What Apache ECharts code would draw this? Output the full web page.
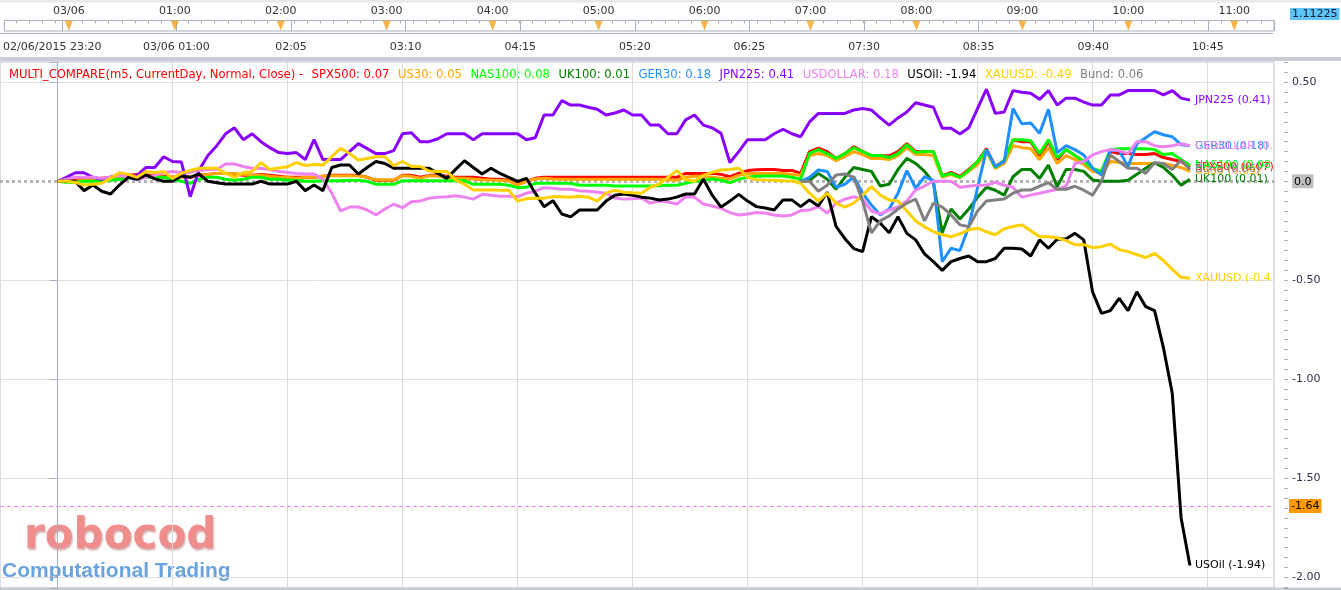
<!DOCTYPE html>
<html>
<head>
<meta charset="utf-8">
<script src="https://cdn.jsdelivr.net/npm/echarts@6/dist/echarts.min.js"></script>
<style>html,body{margin:0;padding:0;background:#fff;}#c{width:1341px;height:590px;}</style>
</head>
<body>
<div id="c"></div>
<script>
// ---------------- DATA ----------------
const seriesNames = ['SPX500','US30','NAS100','UK100','GER30','JPN225','USDOLLAR','USOil','XAUUSD','Bund'];
const lastValues  = [0.07, 0.05, 0.08, 0.01, 0.18, 0.41, 0.18, -1.94, -0.49, 0.06];
const hourLabels  = ['03/06','01:00','02:00','03:00','04:00','05:00','06:00','07:00','08:00','09:00','10:00','11:00'];
const navLabels   = ['02/06/2015 23:20','03/06 01:00','02:05','03:10','04:15','05:20','06:25','07:30','08:35','09:40','10:45'];
const euStart = 84;       // bar index where UK100 / GER30 / Bund begin
const priceLine = -1.64;
const priceTag = '1.11225';

const spx500 = [0,0,0.005,0.01,0.01,0.015,0.02,0.02,0.03,0.035,
 0.03,0.03,0.025,0.02,0.025,0.02,0.03,0.035,0.04,0.04,
 0.035,0.03,0.03,0.035,0.03,0.025,0.02,0.02,0.02,0.02,
 0.025,0.03,0.03,0.03,0.03,0.02,0.005,0.005,0.005,0.03,
 0.03,0.02,0.03,0.03,0.025,0.02,0.02,0.02,0.015,0.01,
 0.01,0.005,-0.015,0,0.015,0.02,0.02,0.02,0.02,0.02,
 0.02,0.02,0.02,0.02,0.02,0.02,0.02,0.02,0.02,0.02,
 0.02,0.04,0.04,0.04,0.04,0.035,0.023,0.04,0.054,0.058,
 0.06,0.06,0.055,0.055,0.04,0.15,0.167,0.15,0.116,0.14,
 0.175,0.15,0.13,0.13,0.128,0.15,0.19,0.15,0.15,0.15,
 0.027,0.045,0.025,0.06,0.1,0.165,0.075,0.105,0.21,0.2,
 0.2,0.13,0.2,0.11,0.16,0.13,0.1,0.06,0.05,0.15,
 0.14,0.14,0.135,0.135,0.14,0.12,0.11,0.1,0.07];

const us30 = [0,0,0,0.005,0.005,0.01,0.01,0.015,0.02,0.025,
 0.025,0.025,0.02,0.015,0.02,0.02,0.03,0.035,0.04,0.04,
 0.04,0.035,0.03,0.03,0.025,0.02,0.02,0.015,0.02,0.02,
 0.025,0.028,0.028,0.028,0.028,0.02,0.007,0.007,0.007,0.028,
 0.025,0.015,0.028,0.025,0.02,0.015,0.015,0.012,0.008,0.006,
 0.005,0.002,-0.019,0,0.012,0.015,0.012,0.01,0.01,0.01,
 0.01,0.01,0.01,0.01,0.01,0.01,0.01,0.01,0.01,0.008,
 0.005,0.02,0.025,0.025,0.02,0.015,0.013,0.03,0.04,0.04,
 0.04,0.04,0.04,0.035,0.03,0.13,0.14,0.13,0.104,0.125,
 0.15,0.135,0.115,0.115,0.11,0.13,0.17,0.135,0.135,0.13,
 0.02,0.035,0.018,0.05,0.085,0.15,0.065,0.09,0.18,0.17,
 0.165,0.11,0.17,0.09,0.13,0.11,0.085,0.05,0.04,0.1,
 0.095,0.09,0.09,0.09,0.09,0.09,0.08,0.07,0.05];

const nas100 = [0,-0.005,-0.005,0,0,0,0.005,0.01,0.015,0.02,
 0.02,0.02,0.02,0.01,0,-0.01,0.01,0.02,0.02,0.01,
 0.005,0.01,0.02,0.02,0.01,0.01,0.005,0.005,0,0,
 0.003,0.003,0.003,0.005,0.005,0,-0.015,-0.015,-0.015,0.003,
 0.003,0.003,0.003,0.003,0.003,0.003,0.003,-0.015,-0.015,-0.015,
 -0.015,-0.02,-0.032,-0.03,-0.01,-0.01,-0.01,-0.01,-0.01,-0.02,
 -0.02,-0.02,-0.02,-0.024,-0.024,-0.024,-0.024,-0.024,-0.022,-0.02,
 -0.02,-0.01,0,0.005,0.012,0.005,-0.007,0.01,0.02,0.025,
 0.027,0.027,0.027,0.02,0.01,0.141,0.16,0.14,0.116,0.14,
 0.17,0.15,0.13,0.13,0.12,0.14,0.185,0.145,0.15,0.15,
 0.027,0.04,0.02,0.055,0.1,0.16,0.07,0.105,0.21,0.21,
 0.205,0.14,0.21,0.12,0.16,0.13,0.1,0.065,0.05,0.16,
 0.165,0.165,0.165,0.165,0.16,0.135,0.14,0.11,0.08];

const uk100 = [0,0.005,0.04,0.01,-0.04,0.02,0.07,0.06,0.05,-0.024,
 -0.015,0.06,0.116,0.09,0.05,-0.005,-0.26,-0.14,-0.19,-0.14,
 -0.08,-0.03,-0.045,-0.07,0.023,0.06,0.06,0.015,0.082,-0.027,
 0.06,0.06,0.05,0.007,0,0,0,0.005,0.035,0.066,
 0.094,0.07,0.03,-0.02,0.01];

const ger30 = [0,0.02,0.057,0.05,-0.03,-0.015,0.023,-0.06,-0.12,-0.17,
 -0.14,-0.06,0.054,-0.035,0.023,0.005,-0.406,-0.338,-0.35,-0.23,
 -0.03,0.16,0.074,0.1,0.368,0.29,0.295,0.242,0.364,0.145,
 0.18,0.16,0.133,0.066,0.032,0.158,0.155,0.074,0.19,0.22,
 0.25,0.235,0.225,0.185,0.18];

const jpn225 = [0,0.02,0.043,0.043,0.02,0.01,0.02,0.037,0.02,0.03,
 0.07,0.07,0.124,0.1,0.097,-0.078,0.057,0.13,0.18,0.24,
 0.27,0.21,0.24,0.2,0.17,0.145,0.14,0.145,0.11,0.21,
 0.11,0.11,0.11,0.15,0.19,0.165,0.14,0.14,0.155,0.24,
 0.245,0.2,0.2,0.215,0.24,0.24,0.24,0.21,0.24,0.24,
 0.24,0.24,0.24,0.21,0.22,0.335,0.335,0.407,0.385,0.385,
 0.374,0.364,0.335,0.345,0.36,0.335,0.335,0.284,0.284,0.24,
 0.24,0.31,0.335,0.284,0.27,0.242,0.094,0.15,0.21,0.21,
 0.21,0.24,0.263,0.24,0.225,0.3,0.343,0.343,0.343,0.343,
 0.36,0.368,0.36,0.32,0.284,0.32,0.35,0.397,0.385,0.374,
 0.268,0.268,0.239,0.27,0.368,0.465,0.343,0.35,0.458,0.45,
 0.445,0.414,0.458,0.385,0.42,0.42,0.4,0.385,0.385,0.436,
 0.436,0.458,0.458,0.458,0.458,0.436,0.458,0.42,0.41];

const usdollar = [0,0.01,0.02,0.02,0.02,0.015,0.02,0.03,0.02,0.01,
 0.02,0.03,0.045,0.05,0.045,0.045,0.055,0.06,0.06,0.087,
 0.087,0.075,0.066,0.065,0.06,0.05,0.045,0.04,0.037,0.037,
 0.01,-0.06,-0.15,-0.13,-0.13,-0.145,-0.17,-0.14,-0.116,-0.133,
 -0.103,-0.1,-0.085,-0.08,-0.078,-0.073,-0.08,-0.09,-0.066,-0.07,
 -0.075,-0.075,-0.078,-0.06,-0.05,-0.032,-0.035,-0.04,-0.04,-0.048,
 -0.05,-0.055,-0.06,-0.085,-0.09,-0.088,-0.085,-0.11,-0.1,-0.105,
 -0.115,-0.078,-0.08,-0.115,-0.125,-0.136,-0.158,-0.17,-0.165,-0.158,
 -0.16,-0.17,-0.175,-0.17,-0.148,-0.145,-0.128,-0.16,-0.11,-0.09,
 -0.078,-0.09,-0.15,-0.165,-0.145,-0.13,-0.1,-0.044,-0.024,0,
 0,0,-0.03,-0.025,-0.02,-0.02,-0.005,-0.02,-0.03,-0.08,
 -0.07,-0.06,-0.05,-0.04,-0.024,0.09,0.1,0.133,0.15,0.16,
 0.155,0.14,0.2,0.2,0.18,0.175,0.18,0.19,0.18];

const usoil = [0,0,0,-0.047,-0.019,-0.05,-0.064,-0.019,0.02,0.01,
 0.032,0.012,0,0,0.027,0.02,0.037,0,-0.007,-0.014,
 -0.014,-0.014,-0.014,0,-0.014,-0.014,-0.014,0,-0.047,-0.019,
 -0.047,0.07,0.082,0.082,0.037,0.07,0.1,0.09,0.066,0.066,
 0.066,0.066,0.066,0.04,0.015,0.06,0.104,0.07,0.037,0.066,
 0.04,0.02,0,0.015,-0.06,-0.128,-0.098,-0.165,-0.18,-0.145,
 -0.145,-0.145,-0.1,-0.07,-0.064,-0.07,-0.08,-0.085,-0.094,-0.09,
 -0.08,-0.064,-0.064,0.012,-0.07,-0.13,-0.1,-0.066,-0.1,-0.128,
 -0.135,-0.145,-0.094,-0.094,-0.128,-0.094,-0.125,-0.055,-0.228,-0.29,
 -0.34,-0.355,-0.179,-0.212,-0.26,-0.179,-0.263,-0.296,-0.367,-0.406,
 -0.45,-0.406,-0.39,-0.377,-0.406,-0.406,-0.39,-0.338,-0.338,-0.342,
 -0.377,-0.296,-0.338,-0.293,-0.29,-0.263,-0.296,-0.56,-0.667,-0.653,
 -0.591,-0.653,-0.558,-0.633,-0.653,-0.84,-1.07,-1.70,-1.94];

const xauusd = [0,0,-0.005,-0.019,-0.015,-0.01,0.015,0.043,0.035,0.02,
 0.05,0.045,0.05,0.015,0.04,0.055,0.066,0.066,0.066,0.04,
 0.02,0.043,0.05,0.094,0.06,0.067,0.074,0.094,0.08,0.085,
 0.082,0.125,0.167,0.14,0.108,0.115,0.124,0.124,0.079,0.1,
 0.075,0.075,0.052,0.05,0.05,0.007,-0.015,-0.044,-0.044,-0.044,
 -0.045,-0.045,-0.1,-0.088,-0.086,-0.085,-0.078,-0.078,-0.08,-0.075,
 -0.08,-0.1,-0.06,-0.045,-0.055,-0.058,-0.06,-0.03,-0.015,0.02,
 0.054,0.01,0,0.03,0.045,0.057,0.06,0.066,0.02,0.008,
 0.006,0.005,0.003,0.002,-0.01,-0.06,-0.1,-0.06,-0.11,-0.13,
 -0.11,-0.07,-0.027,-0.07,-0.094,-0.1,-0.15,-0.2,-0.23,-0.255,
 -0.27,-0.28,-0.265,-0.245,-0.237,-0.255,-0.27,-0.24,-0.228,-0.22,
 -0.25,-0.28,-0.28,-0.285,-0.3,-0.32,-0.32,-0.335,-0.33,-0.317,
 -0.345,-0.355,-0.37,-0.385,-0.364,-0.4,-0.445,-0.485,-0.49];

const bund = [0,0,-0.05,-0.02,0.032,0.037,0.02,-0.1,-0.26,-0.2,
 -0.175,-0.14,-0.11,-0.09,-0.2,-0.11,-0.13,-0.17,-0.22,-0.229,
 -0.15,-0.1,-0.094,-0.09,-0.06,-0.044,-0.044,-0.025,-0.007,-0.04,
 -0.04,-0.025,-0.045,-0.07,0,0.133,0.1,0.066,0.066,0.04,
 0.094,0.09,0.06,0.108,0.06];

// ---------------- STYLE ----------------
const seriesColors = ['#ff0000','#ffa500','#00ff00','#008000','#1e90ff','#8a00ff','#ee82ee','#000000','#ffd000','#808080'];
const FONT = 'DejaVu Sans';
const seriesValues = [spx500, us30, nas100, uk100, ger30, jpn225, usdollar, usoil, xauusd, bund];
const seriesStart  = [0, 0, 0, euStart, euStart, 0, 0, 0, 0, euStart];

// axis extents (panel spans y 62..588, x 0..1274)
const X_MIN = -6.5, X_MAX = 137.5, X_STEP = 13;
const Y_MIN = -2.054, Y_MAX = 0.6025;
const H_MIN = -0.6215, H_MAX = 11.375;

const chart = echarts.init(document.getElementById('c'), null, {renderer: 'canvas'});

const lineSeries = seriesNames.map((name, s) => {
  const ser = {
    name: name, type: 'line', xAxisIndex: 0, yAxisIndex: 0,
    data: seriesValues[s].map((v, k) => [seriesStart[s] + k, v]),
    showSymbol: false, symbol: 'none', silent: true,
    lineStyle: {color: seriesColors[s], width: 3},
    itemStyle: {color: seriesColors[s]},
    z: 10 + s,
    endLabel: {
      show: true, distance: 5,
      formatter: () => name + ' (' + lastValues[s] + ')',
      color: seriesColors[s], fontFamily: FONT, fontSize: 11, fontWeight: 'normal',
      width: 80, overflow: 'truncate', ellipsis: ''
    }
  };
  if (s === 0) {
    ser.markLine = {
      silent: true, symbol: ['none', 'none'], z: 3, animation: false,
      data: [
        {yAxis: 0, lineStyle: {color: '#ffffff', width: 2, type: 'solid'}, label: {show: false}},
        {yAxis: 0, lineStyle: {color: '#b4b4b4', width: 3, type: [3, 3]}, label: {show: false}},
        {yAxis: priceLine, lineStyle: {color: '#ee82ee', width: 1, type: [4, 3]},
         label: {show: true, position: 'end', distance: 15, formatter: priceLine.toFixed(2),
                 backgroundColor: '#ff9900', color: '#000', padding: [2, 2, 1, 2], fontFamily: FONT, fontSize: 11}}
      ]
    };
  }
  return ser;
});

// legend line (title rich text)
const rich = {h: {color: '#ff0000', fontFamily: FONT, fontSize: 11.6, fontWeight: 'normal'}};
let titleText = '{h|MULTI_COMPARE(m5, CurrentDay, Normal, Close) -}';
seriesNames.forEach((n, s) => {
  rich['s' + s] = {color: seriesColors[s], fontFamily: FONT, fontSize: 11.6, fontWeight: 'normal', padding: [0, 0, 0, 8.5]};
  titleText += '{s' + s + '|' + n + ': ' + lastValues[s] + '}';
});

const option = {
  animation: false,
  backgroundColor: '#ffffff',
  title: {left: 4, top: 64, text: titleText, textStyle: {fontFamily: FONT, fontSize: 11.6, fontWeight: 'normal', rich: rich}},
  grid: [
    {left: 0, right: 67, top: 62, bottom: 2, show: true, borderColor: '#b6c0ce', borderWidth: 1, backgroundColor: 'transparent'},
    {left: 0, right: 67, top: 20.5, height: 10.5, show: true, borderColor: '#a6b0be', borderWidth: 1, backgroundColor: '#ffffff'},
    {left: 0, right: 67, top: 20.5, height: 10.5, show: false}
  ],
  xAxis: [
    {type: 'value', gridIndex: 0, min: X_MIN, max: X_MAX, minInterval: X_STEP, maxInterval: X_STEP,
     axisLine: {show: false}, axisTick: {show: false}, axisLabel: {show: false},
     splitLine: {show: true, showMinLine: false, showMaxLine: false, lineStyle: {color: '#dcdcdc', width: 1}}},
    {type: 'value', gridIndex: 1, min: X_MIN, max: X_MAX, minInterval: X_STEP, maxInterval: X_STEP, position: 'bottom',
     axisLine: {show: false},
     axisTick: {show: true, inside: true, length: 10.5, lineStyle: {color: '#a6b0be'}},
     axisLabel: {show: true, margin: 11, color: '#333', fontFamily: FONT, fontSize: 11,
       showMinLabel: true, showMaxLabel: true, hideOverlap: false,
       formatter: v => { const i = Math.round(v / X_STEP); if (Math.abs(v - i * X_STEP) > 1e-6) return ''; if (i === 0) return '{f|' + navLabels[0] + '}'; return navLabels[i] || ''; },
       rich: {f: {color: '#333', fontFamily: FONT, fontSize: 11, padding: [0, 19, 0, 0]}}},
     splitLine: {show: false}},
    {type: 'value', gridIndex: 2, min: H_MIN, max: H_MAX, minInterval: 1, maxInterval: 1, position: 'top',
     axisLine: {show: false},
     axisTick: {show: false, inside: true},
     minorTick: {show: true, splitNumber: 8, length: 3, lineStyle: {color: '#a6b0be'}},
     axisLabel: {show: true, margin: 4, color: '#333', fontFamily: FONT, fontSize: 11, hideOverlap: false,
       formatter: v => { const i = Math.round(v); if (Math.abs(v - i) > 1e-6 || i < 0) return ''; return hourLabels[i] || ''; }},
     splitLine: {show: false}}
  ],
  yAxis: [
    {type: 'value', gridIndex: 0, position: 'right', offset: 14, min: Y_MIN, max: Y_MAX, minInterval: 0.5, maxInterval: 0.5,
     axisLine: {show: true, lineStyle: {color: '#a6b0be'}},
     axisTick: {show: true, inside: true, length: 8, lineStyle: {color: '#a6b0be'}},
     minorTick: {show: false},
     axisLabel: {show: true, margin: 4, color: '#30304a', fontFamily: FONT, fontSize: 11, hideOverlap: false,
       formatter: v => {
         if (Math.abs(v) < 1e-9) return '{z|0.0}';
         if (Math.abs(v * 2 - Math.round(v * 2)) > 1e-6) return '';
         return v.toFixed(2);
       },
       rich: {z: {backgroundColor: '#c0c0c0', color: '#000', padding: [2, 2, 1, 2], fontFamily: FONT, fontSize: 11}}},
     splitLine: {show: true, showMinLine: false, showMaxLine: false, lineStyle: {color: '#e0e0e0', width: 1}}},
    {type: 'value', gridIndex: 0, position: 'right', offset: 14, min: Y_MIN, max: Y_MAX, minInterval: 0.05, maxInterval: 0.05,
     axisLine: {show: false},
     axisTick: {show: true, inside: true, length: 4, lineStyle: {color: '#a6b0be'}},
     axisLabel: {show: false}, splitLine: {show: false}},
    {type: 'value', gridIndex: 1, show: false, min: 0, max: 1},
    {type: 'value', gridIndex: 2, show: false, min: 0, max: 10.5, inverse: true}
  ],
  series: lineSeries.concat([
    {type: 'scatter', name: 'hours', xAxisIndex: 2, yAxisIndex: 3, silent: true, z: 6,
     data: hourLabels.map((_, h) => [h, 5.2]),
     symbol: 'triangle', symbolRotate: 180, symbolSize: [8, 10],
     itemStyle: {color: '#f7a21b'}}
  ]),
  graphic: [
    {type: 'rect', shape: {x: 0, y: 0, width: 1341, height: 2.5}, style: {fill: '#e6e9ee'}, silent: true},
    {type: 'rect', shape: {x: 0, y: 33, width: 1273, height: 1}, style: {fill: '#a6b0be'}, silent: true},
    {type: 'rect', shape: {x: 0, y: 57, width: 1341, height: 4}, style: {fill: '#c8cdd5'}, silent: true},
    {type: 'rect', shape: {x: 0, y: 587.5, width: 1341, height: 2.5}, style: {fill: '#c5cdd8'}, silent: true},
    {type: 'text', x: 1290, y: 14, silent: true,
     style: {text: priceTag, fill: '#1a1a3a', font: '11px "DejaVu Sans"', verticalAlign: 'middle',
             backgroundColor: '#5ec4f5', padding: [1, 2, 0, 2]}},
    {type: 'text', x: 24, y: 537, silent: true, z: -1,
     style: {text: 'robocod', fill: '#f08a8a', font: 'bold 42px "DejaVu Sans"', verticalAlign: 'middle',
             textShadowColor: 'rgba(150,60,60,0.45)', textShadowBlur: 2, textShadowOffsetX: 1, textShadowOffsetY: 2, opacity: 0.95}},
    {type: 'text', x: 2, y: 571, silent: true, z: -1,
     style: {text: 'Computational Trading', fill: '#6aa3dd', font: 'bold 21px "Liberation Sans"', verticalAlign: 'middle'}}
  ]
};
chart.setOption(option);
</script>
</body>
</html>
